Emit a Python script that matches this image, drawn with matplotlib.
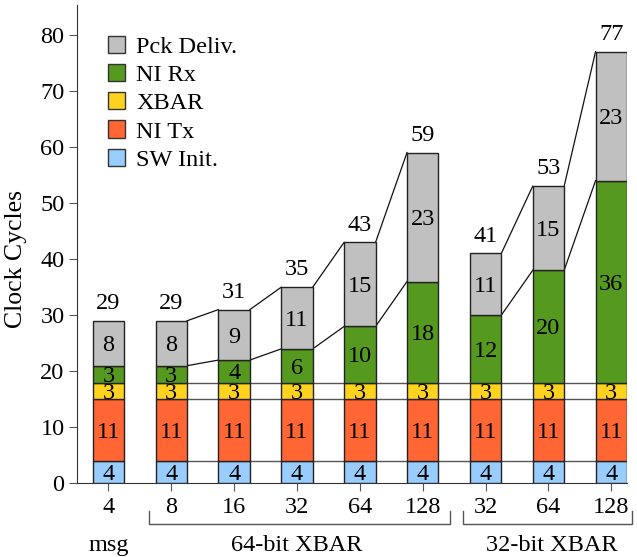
import matplotlib
matplotlib.use("Agg")
import matplotlib.pyplot as plt
from matplotlib.transforms import blended_transform_factory
from matplotlib.patches import Patch
import numpy as np

plt.rcParams['font.family'] = ['Liberation Serif', 'DejaVu Serif']

tick_labels = ["4", "8", "16", "32", "64", "128", "32", "64", "128"]
sw_init = [4, 4, 4, 4, 4, 4, 4, 4, 4]
ni_tx = [11, 11, 11, 11, 11, 11, 11, 11, 11]
xbar = [3, 3, 3, 3, 3, 3, 3, 3, 3]
ni_rx = [3, 3, 4, 6, 10, 18, 12, 20, 36]
pck_deliv = [8, 8, 9, 11, 15, 23, 11, 15, 23]
series_names = ["SW Init.", "NI Tx", "XBAR", "NI Rx", "Pck Deliv."]
series_colors = ["#99CCFF", "#FF6633", "#FFD21F", "#559A1F", "#C0C0C0"]
groups = [(1, 5), (6, 8)]  # index ranges for connected groups

series = [sw_init, ni_tx, xbar, ni_rx, pck_deliv]
FS = 17.5

fig = plt.figure(figsize=(6.37, 5.57), dpi=100)
ax = fig.add_axes([0.1209, 0.132, 0.9843 - 0.1209, 0.991 - 0.132])

x = np.arange(len(tick_labels))
w = 0.5
bottom = np.zeros(len(x))
bounds = [bottom.copy()]
for vals, name, col in zip(series, series_names, series_colors):
    vals = np.array(vals, dtype=float)
    ax.bar(x, vals, w, bottom=bottom, color=col, edgecolor="#222222",
           linewidth=1.0, label=name, zorder=3)
    for xi, b, v in zip(x, bottom, vals):
        ax.text(xi, b + v / 2, f"{int(v)}", ha="center", va="center_baseline",
                fontsize=FS, zorder=4)
    bottom = bottom + vals
    bounds.append(bottom.copy())

totals = bottom
for xi, t in zip(x, totals):
    ax.text(xi, t + 2.1, f"{int(t)}", ha="center", va="baseline", fontsize=FS)

# horizontal connectors at constant levels (from bar 1 to last)
for level in [bounds[1], bounds[2], bounds[3]]:
    for i in range(1, len(x) - 1):
        ax.plot([x[i] + w / 2, x[i + 1] - w / 2], [level[i], level[i + 1]],
                color="#555555", lw=1.0, zorder=2)

# sloped connectors within groups
for lo, hi in groups:
    for level in [bounds[4], bounds[5]]:
        for i in range(lo, hi):
            ax.plot([x[i] + w / 2, x[i + 1] - w / 2], [level[i], level[i + 1]],
                    color="#111111", lw=0.9, zorder=2)

ax.set_xlim(-0.5, 8.25)
ax.set_ylim(0, 85.3)
ax.set_yticks(np.arange(0, 81, 10))
ax.set_xticks(x)
ax.set_xticklabels(tick_labels)
ax.tick_params(axis="both", labelsize=FS, direction="out", length=6,
               color="#555555")
ax.tick_params(axis="x", pad=4)
ax.tick_params(axis="y", pad=3)
for s in ["top", "right"]:
    ax.spines[s].set_visible(False)
ax.spines["left"].set_color("#333333")
ax.spines["bottom"].set_color("#333333")
ax.set_ylabel("Clock Cycles", fontsize=18.5)
ax.yaxis.set_label_coords(-0.091, 0.469)

trans = blended_transform_factory(ax.transData, ax.transAxes)
br_top, br_bot = -0.057, -0.085
for x0, x1 in [(0.65, 5.43), (5.64, 8.33)]:
    ax.plot([x0, x0, x1, x1], [br_top, br_bot, br_bot, br_top], color="#555555",
            lw=1.0, transform=trans, clip_on=False)
ax.text(0, -0.13, "msg", ha="center", va="center", fontsize=FS, transform=trans)
ax.text(3.0, -0.13, "64-bit XBAR", ha="center", va="center", fontsize=FS,
        transform=trans)
ax.text(7.06, -0.13, "32-bit XBAR", ha="center", va="center", fontsize=FS,
        transform=trans)

handles = [Patch(facecolor=c, edgecolor="#333333", label=n)
           for n, c in zip(series_names, series_colors)][::-1]
ax.legend(handles=handles, loc="upper left", bbox_to_anchor=(0.056, 0.936),
          frameon=False, fontsize=FS, handlelength=0.72, handleheight=0.72,
          labelspacing=0.25, handletextpad=0.45, borderaxespad=0, borderpad=0)

fig.savefig("out.png", dpi=100)
